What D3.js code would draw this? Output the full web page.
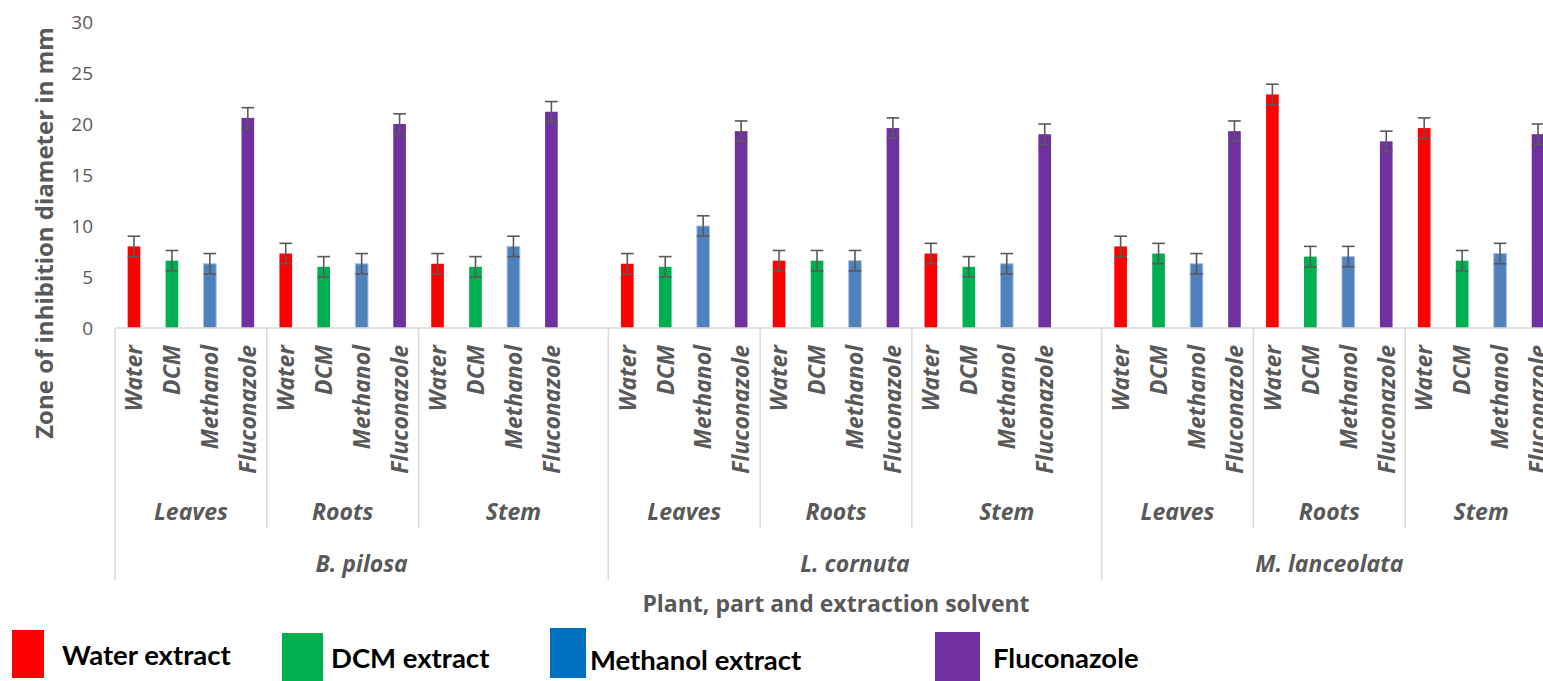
<!DOCTYPE html>
<html>
<head>
<meta charset="utf-8">
<script src="https://cdn.jsdelivr.net/npm/d3@7"></script>
<style>
  html, body { margin: 0; padding: 0; background: #fff; overflow: hidden; }
  svg { display: block; }
</style>
</head>
<body>
<svg id="chart" width="1543" height="681"></svg>
<script>
// ---- data -------------------------------------------------------------
const plants = ["B. pilosa", "L. cornuta", "M. lanceolata"];
const parts = ["Leaves", "Roots", "Stem"];
const solvents = ["Water", "DCM", "Methanol", "Fluconazole"];

// mean zone of inhibition (mm), one entry per plant × part
const waterValues       = [8.0, 7.3, 6.3,   6.3, 6.6, 7.3,   8.0, 22.9, 19.6];
const dcmValues         = [6.6, 6.0, 6.0,   6.0, 6.6, 6.0,   7.3, 7.0, 6.6];
const methanolValues    = [6.3, 6.3, 8.0,   10.0, 6.6, 6.3,  6.3, 7.0, 7.3];
const fluconazoleValues = [20.6, 20.0, 21.2, 19.3, 19.6, 19.0, 19.3, 18.3, 19.0];

// fixed ± error bar per series (mm)
const errorMargins = [1.0, 1.0, 1.0, 1.0];

const yTicks = [0, 5, 10, 15, 20, 25, 30];
const legendLabels = ["Water extract", "DCM extract", "Methanol extract", "Fluconazole"];

// ---- styling ----------------------------------------------------------
const barColors = ["#FF0000", "#00B050", "#4F81BD", "#7030A0"];
const legendColors = ["#FF0000", "#00B050", "#0070C0", "#7030A0"];
const textGray = "#595959";
const lineGray = "#D9D9D9";
const axisFont = "'Open Sans', sans-serif";
const legendFont = "Lato, sans-serif";

const seriesValues = [waterValues, dcmValues, methanolValues, fluconazoleValues];

// ---- category slots (with a blank slot closing each plant but the last) --
const slots = [];
plants.forEach((plant, pi) => {
  parts.forEach((part, ki) => {
    solvents.forEach((s, si) => {
      slots.push({ key: `${pi}|${ki}|${si}`, plant: pi, part: ki, solvent: si,
                   value: seriesValues[si][pi * parts.length + ki], err: errorMargins[si] });
    });
    if (ki === parts.length - 1 && pi < plants.length - 1) {
      slots.push({ key: `${pi}|${ki}|gap`, plant: pi, part: ki, solvent: null });
    }
  });
});

const svg = d3.select("#chart");

const x = d3.scaleBand()
  .domain(slots.map(d => d.key))
  .range([115, 1557])
  .paddingInner(0)
  .paddingOuter(0);

const y = d3.scaleLinear().domain([0, 30]).range([328, 22]);

const barW = x.bandwidth() / 3;
const bars = slots.filter(d => d.solvent !== null);

// ---- y axis labels ------------------------------------------------------
const yAxis = svg.append("g")
  .attr("transform", "translate(100,0)")
  .call(d3.axisLeft(y).tickValues(yTicks).tickSize(0).tickPadding(7));
yAxis.select(".domain").remove();
yAxis.selectAll("text")
  .attr("fill", textGray)
  .style("font-family", axisFont)
  .style("font-size", "19px");

svg.append("text")
  .attr("transform", "translate(45,233) rotate(-90)")
  .attr("text-anchor", "middle")
  .attr("dy", "0.35em")
  .attr("fill", textGray)
  .style("font-family", axisFont)
  .style("font-weight", 700)
  .style("font-size", "24px")
  .text("Zone of inhibition diameter in mm");

// ---- bars and error bars -----------------------------------------------
const barX = d => x(d.key) + (x.bandwidth() - barW) / 2;

svg.append("g").selectAll("rect")
  .data(bars)
  .join("rect")
  .attr("x", barX)
  .attr("width", barW)
  .attr("y", d => y(d.value))
  .attr("height", d => y(0) - y(d.value))
  .attr("fill", d => barColors[d.solvent])
  .attr("stroke", d => d.solvent === 2 ? "#A9C1E0" : "none")
  .attr("stroke-width", 1);

const eb = svg.append("g")
  .attr("stroke", textGray)
  .attr("stroke-width", 1.6)
  .selectAll("g")
  .data(bars)
  .join("g");
eb.append("line")
  .attr("x1", d => x(d.key) + x.bandwidth() / 2)
  .attr("x2", d => x(d.key) + x.bandwidth() / 2)
  .attr("y1", d => y(d.value + d.err))
  .attr("y2", d => y(d.value - d.err));
eb.append("line")
  .attr("x1", barX).attr("x2", d => barX(d) + barW)
  .attr("y1", d => y(d.value + d.err)).attr("y2", d => y(d.value + d.err));
eb.append("line")
  .attr("x1", barX).attr("x2", d => barX(d) + barW)
  .attr("y1", d => y(d.value - d.err)).attr("y2", d => y(d.value - d.err));

// ---- category axis ------------------------------------------------------
const axisY = y(0);
const partBottom = 528;
const plantBottom = 580;

svg.append("line")
  .attr("x1", x.range()[0]).attr("x2", x.range()[1])
  .attr("y1", axisY).attr("y2", axisY)
  .attr("stroke", lineGray).attr("stroke-width", 1.5);

// group spans
const partGroups = d3.groups(slots, d => d.plant, d => d.part);
const plantSpans = partGroups.map(([pi, ps]) => {
  const all = ps.flatMap(p => p[1]);
  return { plant: pi, x0: x(all[0].key), x1: x(all[all.length - 1].key) + x.bandwidth() };
});
const partSpans = partGroups.flatMap(([pi, ps]) => ps.map(([ki, items]) => ({
  plant: pi, part: ki,
  x0: x(items[0].key), x1: x(items[items.length - 1].key) + x.bandwidth()
})));

// dividers: plant edges run to the bottom tier, part edges to the middle tier
const dividers = [];
plantSpans.forEach(s => { dividers.push({ x: s.x0, y2: plantBottom }); });
dividers.push({ x: plantSpans[plantSpans.length - 1].x1, y2: plantBottom });
partSpans.forEach(s => { if (s.part > 0) dividers.push({ x: s.x0, y2: partBottom }); });

svg.append("g").selectAll("line")
  .data(dividers)
  .join("line")
  .attr("x1", d => d.x).attr("x2", d => d.x)
  .attr("y1", axisY).attr("y2", d => d.y2)
  .attr("stroke", lineGray).attr("stroke-width", 1.5);

const labelStyle = sel => sel
  .attr("fill", textGray)
  .style("font-family", axisFont)
  .style("font-weight", 700)
  .style("font-style", "italic")
  .style("font-size", "23px");

svg.append("g").selectAll("text")
  .data(bars)
  .join("text")
  .attr("transform", d => `translate(${x(d.key) + x.bandwidth() / 2},345) rotate(-90)`)
  .attr("text-anchor", "end")
  .attr("dy", "0.36em")
  .call(labelStyle)
  .text(d => solvents[d.solvent]);

svg.append("g").selectAll("text")
  .data(partSpans)
  .join("text")
  .attr("x", d => (d.x0 + d.x1) / 2)
  .attr("y", 520)
  .attr("text-anchor", "middle")
  .call(labelStyle)
  .text(d => parts[d.part]);

svg.append("g").selectAll("text")
  .data(plantSpans)
  .join("text")
  .attr("x", d => (d.x0 + d.x1) / 2)
  .attr("y", 572)
  .attr("text-anchor", "middle")
  .call(labelStyle)
  .text(d => plants[d.plant]);

svg.append("text")
  .attr("x", (x.range()[0] + x.range()[1]) / 2)
  .attr("y", 612)
  .attr("text-anchor", "middle")
  .attr("fill", textGray)
  .style("font-family", axisFont)
  .style("font-weight", 700)
  .style("font-size", "23px")
  .text("Plant, part and extraction solvent");

// ---- legend -------------------------------------------------------------
const legendLayout = [
  { rx: 12,  ry: 630, rw: 32, rh: 48, tx: 62,  ty: 665 },
  { rx: 282, ry: 633, rw: 41, rh: 48, tx: 331, ty: 668 },
  { rx: 550, ry: 628, rw: 36, rh: 50, tx: 590, ty: 670 },
  { rx: 935, ry: 632, rw: 45, rh: 49, tx: 993, ty: 668 }
];
const lg = svg.append("g").selectAll("g")
  .data(legendLabels.map((label, i) => ({ label, color: legendColors[i], pos: legendLayout[i] })))
  .join("g");
lg.append("rect")
  .attr("x", d => d.pos.rx).attr("y", d => d.pos.ry)
  .attr("width", d => d.pos.rw).attr("height", d => d.pos.rh)
  .attr("fill", d => d.color);
lg.append("text")
  .attr("x", d => d.pos.tx).attr("y", d => d.pos.ty)
  .attr("fill", "#000")
  .style("font-family", legendFont)
  .style("font-weight", 700)
  .style("font-size", "27.5px")
  .text(d => d.label);
</script>
</body>
</html>
